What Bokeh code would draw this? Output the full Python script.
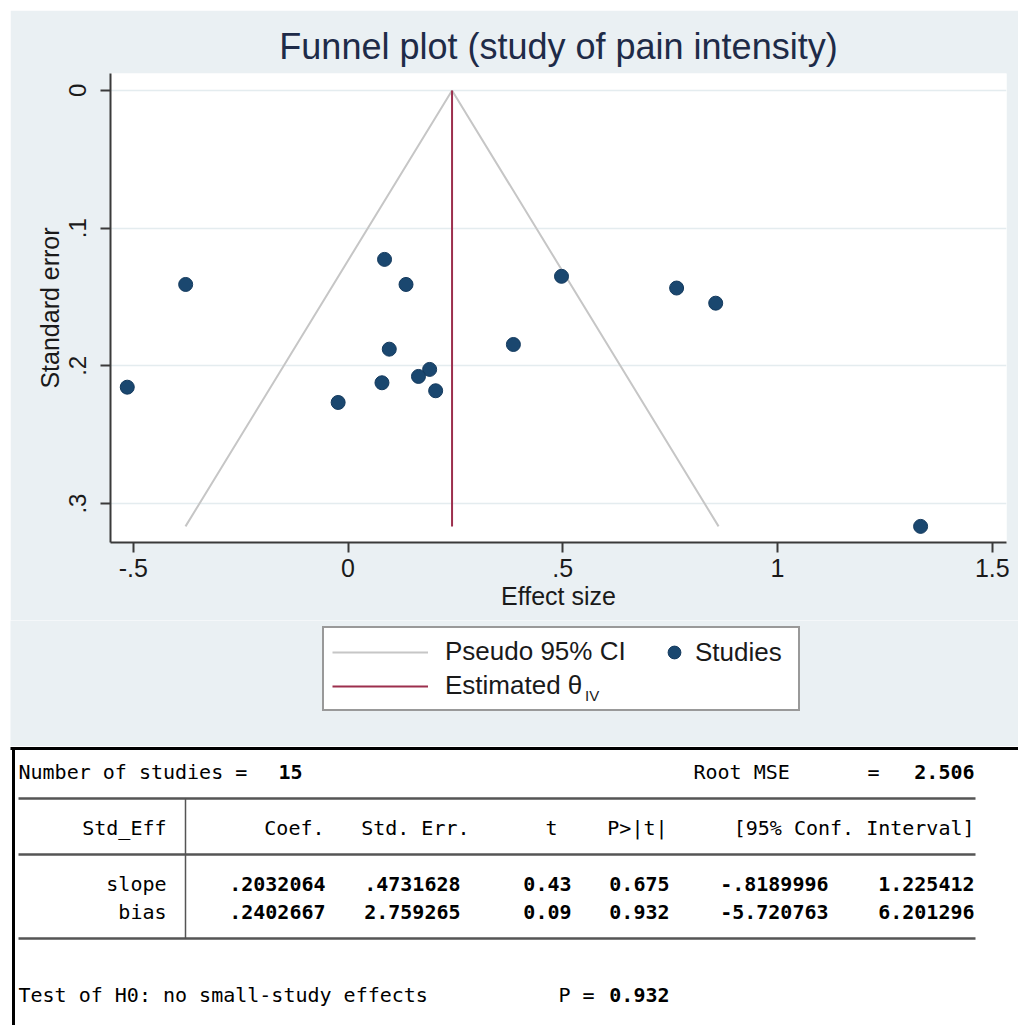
import numpy as np
from bokeh.plotting import figure
from bokeh.models import (Range1d, FixedTicker, Legend, LegendItem)
from bokeh.embed import file_html
from bokeh.resources import INLINE
from bokeh.core.properties import value

# ---------------- data ----------------
effect_size = [-0.514, -0.378, 0.085, 0.135, 0.096, 0.190, 0.164, 0.079,
               0.204, -0.023, 0.385, 0.497, 0.765, 0.856, 1.333]
std_error = [0.2155, 0.1409, 0.1227, 0.1409, 0.1879, 0.2026, 0.2077, 0.2123,
             0.2181, 0.2266, 0.1845, 0.1350, 0.1435, 0.1545, 0.3166]

x_ticks = [-0.5, 0, 0.5, 1, 1.5]
x_tick_labels = ["-.5", "0", ".5", "1", "1.5"]
y_ticks = [0, 0.1, 0.2, 0.3]
y_tick_labels = ["0", ".1", ".2", ".3"]

legend_labels = ["Pseudo 95% CI", "Estimated θ", "IV", "Studies"]

# Egger regression table
n_studies = "15"
root_mse = "2.506"
table_header = ["Std_Eff", "Coef.", "Std. Err.", "t", "P>|t|", "[95% Conf. Interval]"]
row_names = ["slope", "bias"]
coef = [".2032064", ".2402667"]
std_err = [".4731628", "2.759265"]
t_val = ["0.43", "0.09"]
p_val = ["0.675", "0.932"]
ci_low = ["-.8189996", "-5.720763"]
ci_high = ["1.225412", "6.201296"]
p_h0 = "0.932"

# ---------------- derived ----------------
es = np.array(effect_size)
se = np.array(std_error)
w = 1.0 / se ** 2
theta_iv = float(np.sum(w * es) / np.sum(w))
se_max = float(se.max())
z = 1.959964
ci_x = [theta_iv - z * se_max, theta_iv, theta_iv + z * se_max]
ci_y = [se_max, 0, se_max]
est_x = [theta_iv, theta_iv]
est_y = [0, se_max]

BG = "#eaf0f3"
FONT = "Liberation Sans"
CI_COLOR = "#c6c6c6"
EST_COLOR = "#9c2f4d"
PT_FILL = "#1a476f"
PT_LINE = "#143a5e"

# ---------------- funnel plot ----------------
p = figure(frame_width=896, frame_height=469,
           min_border_left=100, min_border_right=12,
           min_border_top=63, min_border_bottom=78,
           x_range=Range1d(-0.553, 1.533), y_range=Range1d(0.3283, -0.0123),
           output_backend="svg", toolbar_location=None,
           title="Funnel plot (study of pain intensity)")
p.margin = (10, 0, 0, 10)

p.title.text_font = FONT
p.title.text_font_size = "36px"
p.title.text_font_style = "normal"
p.title.text_color = "#1e2b48"
p.title.align = "center"
p.title.standoff = 13

p.border_fill_color = BG
p.background_fill_color = "white"
p.outline_line_color = None

for ax in (p.xaxis[0], p.yaxis[0]):
    ax.axis_line_color = "#3a3a3a"
    ax.axis_line_width = 2
    ax.major_tick_line_color = "#3a3a3a"
    ax.major_tick_line_width = 2
    ax.major_tick_in = 0
    ax.major_tick_out = 10
    ax.minor_tick_line_color = None
    ax.major_label_text_font = FONT
    ax.major_label_text_color = "#1a1a1a"
    ax.axis_label_text_font = FONT
    ax.axis_label_text_font_style = "normal"
    ax.axis_label_text_font_size = "25px"
    ax.axis_label_text_color = "#1a1a1a"

p.xaxis.ticker = FixedTicker(ticks=x_ticks)
p.xaxis.major_label_overrides = dict(zip(x_ticks, x_tick_labels))
p.xaxis.major_label_text_font_size = "25px"
p.xaxis.major_label_standoff = 6
p.xaxis.axis_label = "Effect size"
p.xaxis.axis_label_standoff = 2

p.yaxis.ticker = FixedTicker(ticks=y_ticks)
p.yaxis.major_label_overrides = dict(zip(y_ticks, y_tick_labels))
p.yaxis.major_label_text_font_size = "24px"
p.yaxis.major_label_orientation = "parallel"
p.yaxis.major_label_standoff = 14
p.yaxis.axis_label = "Standard error"
p.yaxis.axis_label_standoff = 3

p.xgrid.grid_line_color = None
p.ygrid.ticker = FixedTicker(ticks=y_ticks)
p.ygrid.grid_line_color = "#e4ecef"
p.ygrid.grid_line_width = 1.5

p.line(ci_x, ci_y, line_color=CI_COLOR, line_width=2)
p.line(est_x, est_y, line_color=EST_COLOR, line_width=2)
p.scatter(effect_size, std_error, size=14, fill_color=PT_FILL,
          line_color=PT_LINE, line_width=1)

# ---------------- legend panel (below the x axis) ----------------
lf = figure(width=1008, height=126, x_range=Range1d(0, 1008), y_range=Range1d(0, 126),
            min_border=0, output_backend="svg", toolbar_location=None)
lf.margin = (0, 0, 0, 10)
lf.axis.visible = False
lf.grid.visible = False
lf.outline_line_color = None
lf.background_fill_color = BG
lf.border_fill_color = BG

# same series, hidden here: they only supply the legend keys
k_ci = lf.line(ci_x, ci_y, line_color=CI_COLOR, line_width=2, visible=False)
k_est = lf.line(est_x, est_y, line_color=EST_COLOR, line_width=2, visible=False)
k_pts = lf.scatter(effect_size, std_error, fill_color=PT_FILL,
                   line_color=PT_LINE, line_width=1, visible=False)

common = dict(orientation="vertical", margin=0, label_text_font=FONT,
              label_text_color="#1a1a1a", click_policy="none",
              inactive_fill_alpha=0)
leg_a = Legend(items=[LegendItem(label=legend_labels[0], renderers=[k_ci]),
                      LegendItem(label=legend_labels[1], renderers=[k_est])],
               location=(312, 35),
               glyph_width=96, glyph_height=28, label_height=28, label_width=345,
               label_standoff=17, padding=8, spacing=3,
               label_text_font_size="26px",
               border_line_color="#333333", border_line_width=2,
               background_fill_color="white", background_fill_alpha=1, **common)
leg_c = Legend(items=[LegendItem(label=legend_labels[2], renderers=[k_est])],
               location=(575, 42),
               glyph_width=0, glyph_height=14, label_height=14,
               label_standoff=0, padding=0, spacing=0,
               label_text_font_size="15px",
               border_line_color=None, background_fill_alpha=0, **common)
leg_b = Legend(items=[LegendItem(label=legend_labels[3], renderers=[k_pts])],
               location=(648, 78),
               glyph_width=32, glyph_height=32, label_height=28,
               label_standoff=5, padding=0, spacing=0,
               label_text_font_size="26px",
               border_line_color=None, background_fill_alpha=0, **common)
lf.add_layout(leg_a)
lf.add_layout(leg_c)
lf.add_layout(leg_b)

# ---------------- regression table ----------------
MONO = value("DejaVu Sans Mono")
t = figure(width=1018, height=279, x_range=Range1d(0, 1018), y_range=Range1d(1025, 746),
           min_border=0, output_backend="svg", toolbar_location=None)
t.axis.visible = False
t.grid.visible = False
t.outline_line_color = None
t.background_fill_color = "white"
t.border_fill_color = "white"

# frame of the output window
t.segment(x0=[10, 13], y0=[748, 748], x1=[1018, 13], y1=[748, 1025],
          line_color="black", line_width=3)
# rules
t.segment(x0=[18, 18, 18, 185], y0=[798, 854, 938, 798],
          x1=[975, 975, 975, 185], y1=[798, 854, 938, 938],
          line_color="#555555", line_width=[2.5, 2.5, 2.5, 1.5])

txt = dict(text_font=MONO, text_font_size="20px", text_color="black",
           text_baseline="middle")

t.text(x=[18, 693, 867], y=[771, 771, 771],
       text=["Number of studies =", "Root MSE", "="], text_align="left", **txt)
t.text(x=[302, 974], y=[771, 771], text=[n_studies, root_mse],
       text_align="right", text_font_style="bold", **txt)

hdr_right = [166, 324, 469, 557, 667, 974]
t.text(x=hdr_right, y=[827] * len(table_header), text=table_header,
       text_align="right", **txt)

row_y = [883, 911]
t.text(x=[166] * len(row_names), y=row_y, text=row_names, text_align="right", **txt)
col_right = [325, 460, 571, 669, 828, 974]
for xr, vals in zip(col_right, [coef, std_err, t_val, p_val, ci_low, ci_high]):
    t.text(x=[xr] * len(vals), y=row_y, text=vals, text_align="right",
           text_font_style="bold", **txt)

t.text(x=[18, 558], y=[994, 994], text=["Test of H0: no small-study effects", "P ="],
       text_align="left", **txt)
t.text(x=[669], y=[994], text=[p_h0], text_align="right", text_font_style="bold", **txt)

open("out.html", "w").write(file_html([p, lf, t], INLINE))
